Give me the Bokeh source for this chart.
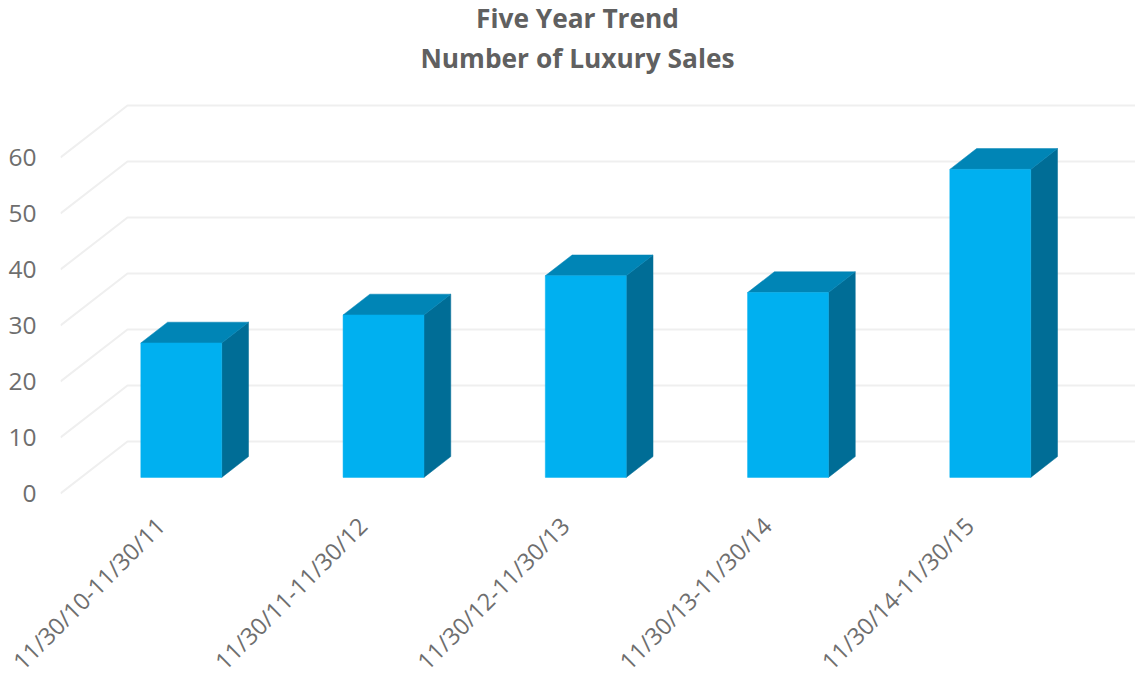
import math
from bokeh.embed import file_html
from bokeh.models import ColumnDataSource, FixedTicker, Label, Range1d
from bokeh.plotting import figure
from bokeh.resources import INLINE

# Luxury sales per twelve-month period
periods = ["11/30/10-11/30/11", "11/30/11-11/30/12", "11/30/12-11/30/13",
           "11/30/13-11/30/14", "11/30/14-11/30/15"]
sales = [24, 29, 36, 33, 55]
value_ticks = [0, 10, 20, 30, 40, 50, 60]
title_lines = ["Five Year Trend", "Number of Luxury Sales"]

WIDTH, HEIGHT = 1135, 681
LEFT, FRAME_BOTTOM = 60, 495
PX_PER_CATEGORY, PX_PER_VALUE = 202.25, 5.6
ZERO_X, ZERO_Y = 160.0, 493.0          # pixel position of category 0, value 0 on the front plane

# Oblique projection: how far the depth axis shifts a point, in data units
DEPTH_X = 67 / PX_PER_CATEGORY
DEPTH_Y = 52 / PX_PER_VALUE
BAR_NEAR, BAR_FAR = 0.31, 0.71
BAR_HALF = 0.2


def cat_of_px(px):
    return (px - ZERO_X) / PX_PER_CATEGORY


def val_of_px(py):
    return (ZERO_Y - py) / PX_PER_VALUE


def project(i, v, d):
    return i + DEPTH_X * d, v + DEPTH_Y * d


# The frame size is fixed so the long rotated labels cannot squeeze the plot area
p = figure(width=WIDTH, height=HEIGHT, frame_width=WIDTH - LEFT, frame_height=FRAME_BOTTOM,
           output_backend="svg", toolbar_location=None,
           x_range=Range1d(cat_of_px(LEFT), cat_of_px(WIDTH)),
           y_range=Range1d(val_of_px(FRAME_BOTTOM), val_of_px(0)),
           min_border_left=LEFT, min_border_right=0, min_border_top=0, min_border_bottom=0)
p.outline_line_color = None
p.background_fill_color = "white"
p.xgrid.visible = False
p.ygrid.visible = False

# Wall and side gridlines: from the front plane to the back wall, then across
right_edge = cat_of_px(WIDTH)
grid_xs, grid_ys = [], []
for v in value_ticks:
    x0, y0 = project(cat_of_px(LEFT), v, 0)
    x1, y1 = project(cat_of_px(LEFT), v, 1)
    grid_xs.append([x0, x1, right_edge])
    grid_ys.append([y0, y1, y1])
p.multi_line(grid_xs, grid_ys, line_color="#efefef", line_width=2)

# Three visible faces of each bar
front, top_face, side = ([], []), ([], []), ([], [])
for i, v in enumerate(sales):
    l, r = i - BAR_HALF, i + BAR_HALF
    corners = {
        "nl0": project(l, 0, BAR_NEAR), "nr0": project(r, 0, BAR_NEAR),
        "nlv": project(l, v, BAR_NEAR), "nrv": project(r, v, BAR_NEAR),
        "fr0": project(r, 0, BAR_FAR), "frv": project(r, v, BAR_FAR),
        "flv": project(l, v, BAR_FAR),
    }
    for face, keys in ((front, ["nl0", "nr0", "nrv", "nlv"]),
                       (side, ["nr0", "fr0", "frv", "nrv"]),
                       (top_face, ["nlv", "nrv", "frv", "flv"])):
        face[0].append([corners[k][0] for k in keys])
        face[1].append([corners[k][1] for k in keys])

for face, colour in ((side, "#006d96"), (top_face, "#0085b6"), (front, "#00b0f0")):
    src = ColumnDataSource(dict(xs=face[0], ys=face[1]))
    p.patches("xs", "ys", source=src, fill_color=colour, line_color=colour, line_width=0.5)

# Axes
p.yaxis.ticker = FixedTicker(ticks=value_ticks)
p.yaxis.axis_line_color = None
p.yaxis.major_tick_line_color = None
p.yaxis.minor_tick_line_color = None
p.yaxis.major_label_standoff = 18
p.yaxis.major_label_text_font = "Open Sans"
p.yaxis.major_label_text_font_size = "24.5px"
p.yaxis.major_label_text_color = "#6e6e6e"

p.xaxis.ticker = FixedTicker(ticks=list(range(len(periods))))
p.xaxis.major_label_overrides = {i: s for i, s in enumerate(periods)}
p.xaxis.axis_line_color = None
p.xaxis.major_tick_line_color = None
p.xaxis.minor_tick_line_color = None
p.xaxis.major_label_orientation = math.pi / 4
p.xaxis.major_label_standoff = 20
p.xaxis.major_label_text_font = "Open Sans"
p.xaxis.major_label_text_font_size = "23.5px"
p.xaxis.major_label_text_color = "#6e6e6e"

# Two-line heading, centred over the chart
for line, py in zip(title_lines, (17, 57)):
    p.add_layout(Label(x=cat_of_px(577), y=val_of_px(py), text=line,
                       text_align="center", text_baseline="middle",
                       text_font="Open Sans", text_font_style="bold",
                       text_font_size="26.3px", text_color="#606060"))

open("out.html", "w").write(file_html(p, INLINE))
